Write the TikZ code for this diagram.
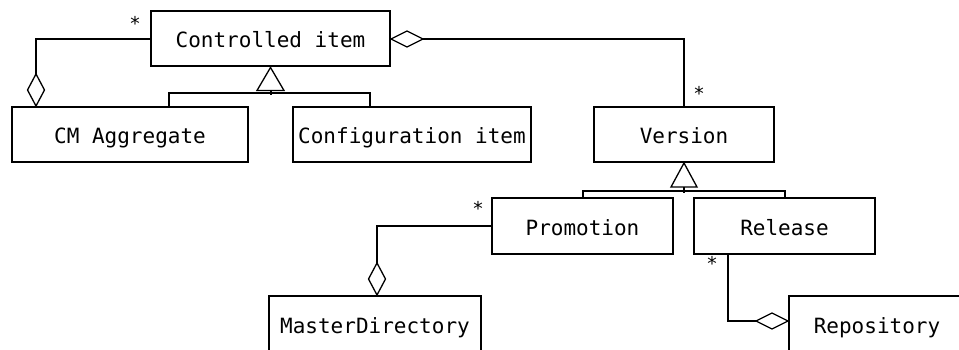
\documentclass[tikz,border=0pt]{standalone}
\usepackage{fontspec}
\setmonofont{DejaVu Sans Mono}
\usetikzlibrary{calc}
\begin{document}
\begin{tikzpicture}[x=1pt,y=-1pt,line width=2pt,
  box/.style={draw, minimum height=55pt, inner sep=0pt,
    font=\ttfamily\fontsize{21}{25}\selectfont, text height=18pt, text depth=0pt},
  mult/.style={font=\ttfamily\fontsize{19}{21}\selectfont, inner sep=0pt},
  agg/.style={fill=white, line width=1.3pt, line join=miter}]
\useasboundingbox (0,0) rectangle (959,350);
\clip (0,0) rectangle (959,350);
% classes
\node[box, minimum width=239pt] (ci)   at (270.5,39)   {Controlled item};
\node[box, minimum width=236pt] (cma)  at (130,134.5)  {CM Aggregate};
\node[box, minimum width=238pt] (cfg)  at (412,134.5)  {Configuration item};
\node[box, minimum width=180pt] (ver)  at (684,134.5)  {Version};
\node[box, minimum width=181pt] (pro)  at (582.5,226)  {Promotion};
\node[box, minimum width=181pt] (rel)  at (784.5,226)  {Release};
\node[box, minimum width=212pt, minimum height=56pt] (md)   at (375,324) {MasterDirectory};
\node[box, minimum width=176pt, minimum height=56pt] (repo) at (877,324) {Repository};
% attach points
\coordinate (cmaT) at ($(cma.north west)+(25,0)$);
\coordinate (cmaG) at ($(cma.north west)+(158,0)$);
\coordinate (cfgG) at ($(cfg.north west)+(78,0)$);
\coordinate (mdT)  at ($(md.north)+(2,0)$);
\coordinate (relB) at ($(rel.south west)+(35,0)$);
\coordinate (repoL) at ($(repo.west)+(0,-3)$);
% CM Aggregate aggregates Controlled item
\draw (ci.west) -| ($(cmaT)+(0,-32)$);
\draw[agg] (cmaT) -- ++(-8.5,-16) -- ++(8.5,-16) -- ++(8.5,16) -- cycle;
% generalization of Controlled item
\draw (cmaG) -- ++(0,-13) -| (cfgG);
\draw ($(ci.south)+(0,23)$) -- ++(0,5);
\draw[fill=white, line width=1.3pt] (ci.south) -- ++(-13.5,23) -- ++(27,0) -- cycle;
% Controlled item aggregates Version
\draw ($(ci.east)+(32,0)$) -| (ver.north);
\draw[agg] (ci.east) -- ++(16,-8) -- ++(16,8) -- ++(-16,8) -- cycle;
% generalization of Version
\draw (pro.north) -- ++(0,-6) -| (rel.north);
\draw ($(ver.south)+(0,24)$) -- ++(0,6);
\draw[fill=white, line width=1.3pt] (ver.south) -- ++(-13,24) -- ++(26,0) -- cycle;
% MasterDirectory aggregates Promotion
\draw (pro.west) -| ($(mdT)+(0,-32)$);
\draw[agg] (mdT) -- ++(-8.5,-16) -- ++(8.5,-16) -- ++(8.5,16) -- cycle;
% Repository aggregates Release
\draw (relB) |- ($(repoL)+(-32,0)$);
\draw[agg] (repoL) -- ++(-16,-8) -- ++(-16,8) -- ++(16,8) -- cycle;
% multiplicities
\node[mult] (m1) at (135,23)  {*};
\node[mult] (m2) at (699,93)  {*};
\node[mult] (m3) at (478,208) {*};
\node[mult] (m4) at (712,263) {*};
\end{tikzpicture}
\end{document}
